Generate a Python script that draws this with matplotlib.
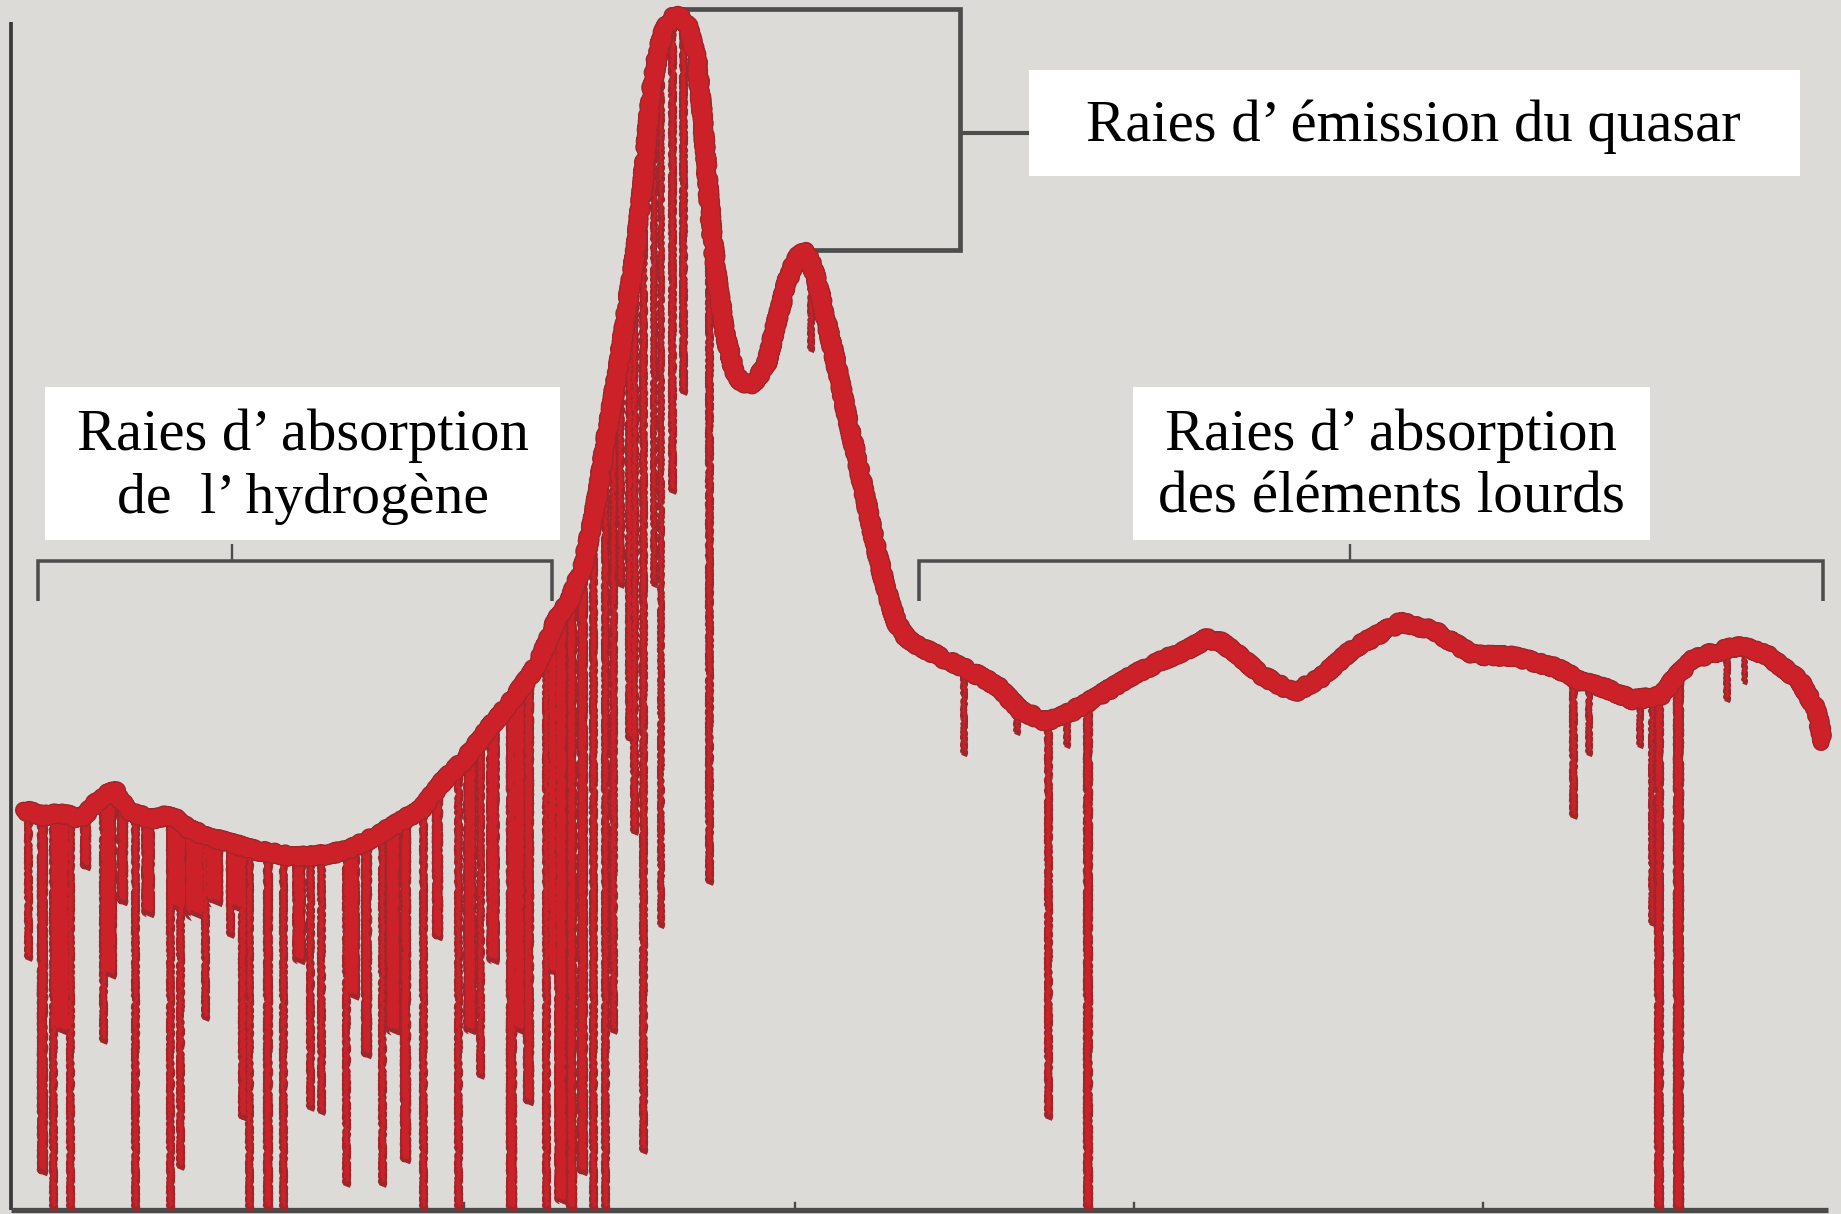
import numpy as np
import matplotlib
matplotlib.use("Agg")
import matplotlib.pyplot as plt
from matplotlib.patches import Rectangle
import matplotlib.patheffects as pe

# ---------------- data (arbitrary wavelength / flux units) ----
cont_x = [20, 37, 51, 68, 82, 97, 108, 128, 145, 162, 185, 216, 240, 250, 280,
          301, 320, 341, 360, 375, 395, 415, 435, 454, 465, 474, 485, 497, 507,
          517, 528, 535, 542, 548, 554, 560, 565, 570, 575, 580, 586, 593, 598,
          602, 606, 611, 618, 625, 631, 638, 645, 653, 661, 670, 677, 684, 690,
          696, 701, 710, 721, 733, 744, 752, 758, 764, 770, 778, 792, 806, 829,
          849, 869, 892, 909, 934, 963, 991, 1012, 1028, 1040, 1051, 1076, 1102,
          1124, 1153, 1164, 1193, 1221, 1255, 1289, 1326, 1346, 1369, 1391, 1414,
          1428, 1442, 1459, 1482, 1505, 1533, 1547, 1553]
cont_f = [341, 336, 339, 333, 347, 359, 341, 333, 337, 324, 316, 307, 303, 301,
          303, 309, 319, 331, 343, 363, 383, 409, 433, 459, 481, 503, 519, 550,
          598, 662, 726, 775, 821, 880, 947, 985, 1003, 1013, 1018, 1016, 1008,
          982, 935, 885, 835, 790, 745, 716, 706, 703, 708, 722, 755, 790, 808,
          818, 810, 790, 769, 731, 679, 626, 574, 540, 518, 500, 490, 483, 476,
          469, 458, 447, 426, 416, 423, 437, 455, 469, 478, 487, 484, 476, 455,
          441, 453, 479, 485, 501, 494, 473, 472, 462, 451, 444, 435, 438, 455,
          469, 475, 481, 473, 451, 426, 399]

# absorption lines: position, flux at the bottom of the line, line width
abs_x = [24, 36, 45, 52, 60, 72, 88, 93, 104, 115, 126, 145, 150, 153, 165,
         175, 182, 196, 200, 207, 212, 228, 241, 255, 264, 273, 295, 300, 312,
         325, 335, 345, 360, 372, 390, 400, 409, 420, 435, 442, 450, 465, 470,
         478, 486, 496, 505, 515, 522, 528, 536, 540, 548, 551, 557, 563, 572,
         582, 604, 691, 706,
         821, 866, 893, 909, 927, 1340, 1353, 1397, 1407, 1413, 1429, 1471, 1485]
abs_f = [213, 31, 0, 151, 0, 291, 143, 199, 261, 0, 251, 0, 256, 35, 251,
         162, 261, 233, 256, 77, 0, 0, 0, 211, 86, 82, 21, 181, 131,
         21, 151, 41, 0, 231, 0, 151, 113, 211, 0, 151, 91, 0, 201,
         6, 0, 31, 0, 0, 151, 531, 400, 321, 49, 881, 531, 241, 611,
         695, 278, 731, 726,
         387, 405, 78, 394, 0, 334, 387, 394, 242, 0, 0, 433, 448]
abs_w = [6, 8, 6, 14, 6, 8, 6, 12, 8, 6, 10, 6, 16, 6, 16,
         6, 14, 6, 14, 7, 6, 7, 6, 10, 6, 6, 6, 12, 8,
         6, 12, 8, 6, 8, 6, 10, 6, 10, 8, 10, 8, 6, 8,
         10, 8, 8, 6, 6, 6, 6, 6, 6, 6, 5, 5, 5, 6,
         6, 6, 5, 4,
         5, 5, 6, 5, 7, 6, 5, 5, 5, 7, 8, 5, 4]

label_emission = "Raies d\u2019 émission du quasar"
label_hydrogen = ["Raies d\u2019 absorption", "de  l\u2019 hydrogène"]
label_metals = ["Raies d\u2019 absorption", "des éléments lourds"]

# ---------------- figure --------------------------------------------------------
BG = "#dcdbd7"
RED = "#cc2129"
RED_DARK = "#9f262b"
GRAY = "#4d4d4d"
PX = 1841 / 1568 * 0.72          # one reference-pixel in points

fig = plt.figure(figsize=(18.41, 12.14), dpi=100)
fig.patch.set_facecolor(BG)
ax = fig.add_axes([0, 0, 1, 1])
ax.set_facecolor(BG)
ax.set_xlim(0, 1568)
ax.set_ylim(-3, 1031)
for s in ax.spines.values():
    s.set_visible(False)
ax.set_xticks([])
ax.set_yticks([])

# axes lines
ax.plot([9, 9], [0, 1012], color="#3a3a3a", lw=3.2 * PX, solid_capstyle="butt", zorder=1)
ax.plot([9, 1557], [0, 0], color="#4a4a4a", lw=4.5 * PX, solid_capstyle="butt", zorder=1)
for tx in [395, 677, 966, 1263]:
    ax.plot([tx, tx], [0, 6], color="#4a4a4a", lw=2 * PX, zorder=1)

# spectrum: continuum + absorption lines
cx = np.array(cont_x, float)
cf = np.array(cont_f, float)
tops = np.interp(abs_x, cx, cf)
vl1 = ax.vlines(abs_x, abs_f, tops, colors=RED_DARK,
                linewidths=[w * PX for w in abs_w], zorder=3)
vl2 = ax.vlines(abs_x, np.array(abs_f) + 4, tops, colors=RED,
                linewidths=[max(w - 3.5, 1.2) * PX for w in abs_w], zorder=3)
for v in (vl1, vl2):
    v.set_capstyle("butt")
    v.set_sketch_params(scale=1.2, length=3, randomness=6)

line, = ax.plot(cx, cf, color=RED, lw=12 * PX, solid_joinstyle="round",
                solid_capstyle="round", zorder=4,
                path_effects=[pe.Stroke(linewidth=14.5 * PX, foreground=RED_DARK), pe.Normal()])
line.set_sketch_params(scale=2.5, length=4, randomness=10)

# brackets
def seg(xs, ys, lw=3.0):
    ax.plot(xs, ys, color=GRAY, lw=lw * PX, solid_capstyle="butt",
            solid_joinstyle="miter", zorder=2)

seg([578, 818, 818, 685], [1023, 1023, 818, 818], lw=4)
seg([818, 876], [918, 918], lw=3.5)
seg([32, 32, 470, 470], [519, 553, 553, 519])
seg([198, 198], [553, 568], lw=2)
seg([783, 783, 1553, 1553], [519, 553, 553, 519])
seg([1150, 1150], [553, 568], lw=2)

# white label boxes
boxes = [(876, 881, 657, 90), (38, 571, 439, 130), (965, 571, 440, 130)]
for (bx, by, bw, bh) in boxes:
    ax.add_patch(Rectangle((bx, by), bw, bh, facecolor="white",
                           edgecolor="none", zorder=5))

fig.canvas.draw()
renderer = fig.canvas.get_renderer()

def fitted_text(x, y, s, width_ref):
    t = ax.text(x, y, s, ha="center", va="center", fontsize=40,
                family=["Liberation Serif", "DejaVu Serif"], color="black", zorder=6)
    w = t.get_window_extent(renderer).width
    t.set_fontsize(40 * width_ref * 1841 / 1568 / w)
    return t

fitted_text(1204, 923, label_emission, 557)
fitted_text(258, 660, label_hydrogen[0], 384)
fitted_text(258, 606, label_hydrogen[1], 316)
fitted_text(1185, 660, label_metals[0], 384)
fitted_text(1185, 606, label_metals[1], 397)

fig.savefig("out.png", dpi=100, facecolor=BG)
